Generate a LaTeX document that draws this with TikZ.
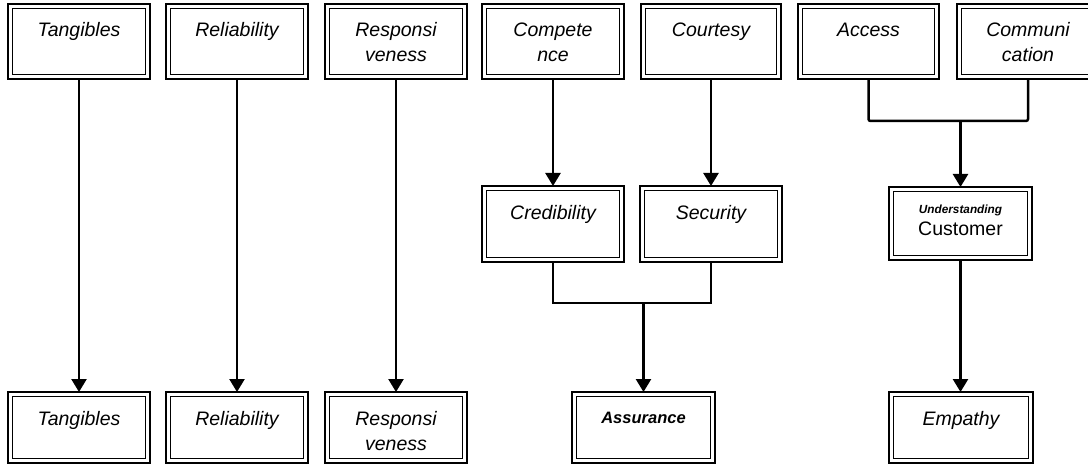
\documentclass[tikz,border=0pt]{standalone}
\usepackage{fontspec}
\setmainfont{Liberation Sans}
\usetikzlibrary{arrows.meta}

\tikzset{
  dbox/.style={draw, line width=2.7pt, inner sep=0pt, outer sep=0pt,
    anchor=north west, font=\itshape\fontsize{19.5}{25}\selectfont},
  inbox/.style={line width=1.4pt},
  conn/.style={line width=2.5pt},
  arr/.style={conn, -{Triangle[length=13pt,width=15pt]}},
}

% \boxat{name}{x}{y}{width}{height}{first baseline}{text}
% draws a box with a heavy outer frame and a thin inner frame
\newcommand\boxat[7]{%
  \node[dbox, minimum width=#4pt, minimum height=#5pt] (#1) at (#2,#3)
    {\parbox[c][#5pt][t]{#4pt}{\centering\rule{0pt}{#6pt}#7\par}};
  \draw[inbox] ([shift={(4.6,4.6)}]#1.north west)
    rectangle ([shift={(-4.6,-4.6)}]#1.south east);
}

\begin{document}
\begin{tikzpicture}[x=1pt,y=-1pt]
\useasboundingbox (0,0) rectangle (1088,465);
\clip (0,0) rectangle (1088,465);

% dimensions
\boxat{tanA}{8}{4}{142}{75}{33}{Tangibles}
\boxat{relA}{166}{4}{142}{75}{33}{Reliability}
\boxat{resA}{325}{4}{142}{75}{33}{Responsi\\veness}
\boxat{comA}{482}{4}{142}{75}{33}{Compete\\nce}
\boxat{couA}{641}{4}{140}{75}{33}{Courtesy}
\boxat{accA}{798}{4}{141}{75}{33}{Access}
\boxat{cmmA}{957}{4}{142}{75}{33}{Communi\\cation}

% intermediate factors
\boxat{cred}{482}{186}{142}{76}{34}{Credibility}
\boxat{sec}{640}{186}{142}{76}{34}{Security}
\boxat{und}{889}{187}{143}{73}{27}{{\bfseries\fontsize{11.8}{12}\selectfont Understanding}\\[-3pt]{\upshape Customer}}

% resulting dimensions
\boxat{tanB}{8}{392}{142}{71}{33}{Tangibles}
\boxat{relB}{166}{392}{142}{71}{33}{Reliability}
\boxat{resB}{325}{392}{142}{71}{33}{Responsi\\veness}
\boxat{ass}{572}{392}{143}{71}{31}{{\bfseries\fontsize{16.5}{20}\selectfont Assurance}}
\boxat{emp}{889}{392}{144}{71}{33}{Empathy}

% straight links
\draw[arr] (tanA.south) -- (tanB.north);
\draw[arr] (relA.south) -- (relB.north);
\draw[arr] (resA.south) -- (resA.south |- resB.north);
\draw[arr] (comA.south) -- (cred.north);
\draw[arr] (couA.south) -- (sec.north);

% credibility + security -> assurance
\draw[conn] (cred.south) -- ++(0,41) coordinate (j1) -| (sec.south);
\draw[arr] (ass.north |- j1) -- (ass.north);

% access + communication -> understanding customer -> empathy
\draw[conn, rounded corners=2pt] (accA.south) -- ++(0,42) coordinate (j2) -| (cmmA.south);
\draw[arr] (und.north |- j2) -- (und.north);
\draw[arr] (und.south) -- (und.south |- emp.north);
\end{tikzpicture}
\end{document}
